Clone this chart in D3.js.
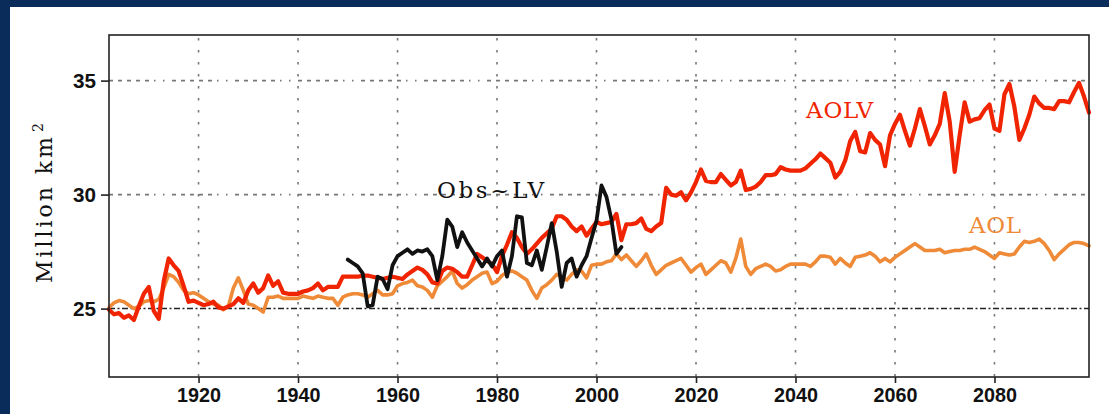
<!DOCTYPE html>
<html><head><meta charset="utf-8">
<script src="https://cdn.jsdelivr.net/npm/d3@7"></script>
<style>html,body{margin:0;padding:0;background:#0a2c5a;overflow:hidden}</style>
</head><body>
<svg id="c" width="1109" height="414"></svg>
<script>
// ---- data ----
const aolvStart = 1902;
const aolv = [
  24.95,24.75,24.8,24.6,24.7,24.5,25.1,25.65,25.95,24.9,
  24.55,26.2,27.2,26.9,26.65,26.0,25.3,25.35,25.25,25.15,
  25.2,25.3,25.05,25.0,25.1,25.2,25.45,25.25,25.8,26.1,
  25.7,25.9,26.45,26.0,26.2,25.7,25.65,25.65,25.65,25.75,
  25.8,25.9,26.1,25.8,25.95,25.95,25.95,26.4,26.4,26.4,
  26.4,26.45,
  26.45,26.4,26.35,26.3,26.35,26.4,
  26.35,26.3,26.5,26.65,26.8,26.7,26.5,26.15,26.1,26.65,
  26.8,26.75,26.6,26.4,26.4,26.9,27.4,27.25,27.1,26.95,
  26.6,27.3,27.8,28.35,28.1,27.7,27.4,27.6,27.85,28.1,
  28.3,28.5,29.05,29.05,28.9,28.6,28.4,28.6,28.2,28.5,
  28.8,28.7,28.75,28.8,29.15,28.0,28.7,28.7,28.75,28.95,
  28.5,28.4,28.6,28.75,30.3,30.0,29.95,30.1,29.75,30.1,
  30.55,31.1,30.6,30.55,30.55,30.9,30.65,30.4,30.55,31.05,
  30.2,30.25,30.35,30.55,30.85,30.85,30.9,31.2,31.1,31.05,
  31.05,31.05,31.15,31.35,31.55,31.8,31.6,31.4,30.75,31.0,
  31.5,32.35,32.75,31.9,31.85,32.7,32.4,32.2,31.25,32.6,
  33.1,33.5,32.8,32.15,32.9,33.75,33.0,32.2,32.6,33.1,
  34.45,33.2,31.0,32.6,34.05,33.2,33.3,33.35,33.7,33.95,
  32.9,32.8,34.4,34.85,33.85,32.4,32.9,33.5,34.3,34.0,
  33.8,33.8,33.75,34.1,34.1,34.05,34.5,34.9,34.3,33.6
];
const aolStart = 1902;
const aol = [
  25.05,25.25,25.35,25.3,25.15,25.0,25.1,25.3,25.35,25.3,
  25.4,25.9,26.5,26.4,26.15,25.8,25.65,25.7,25.6,25.45,
  25.3,25.2,25.15,24.95,25.1,25.9,26.35,25.8,25.2,25.15,
  25.0,24.85,25.5,25.5,25.55,25.45,25.45,25.45,25.45,25.55,
  25.5,25.45,25.55,25.5,25.45,25.45,25.15,25.5,25.6,25.65,
  25.65,25.6,25.5,25.65,25.8,25.6,25.6,25.65,
  26.0,26.1,26.15,26.25,26.0,25.95,25.8,25.5,26.0,26.2,
  26.4,26.65,26.1,25.9,26.05,26.25,26.4,26.55,26.6,26.1,
  26.2,26.45,26.6,26.65,26.55,26.4,26.25,25.8,25.45,25.9,
  26.05,26.25,26.5,26.4,26.25,26.5,26.7,26.65,26.35,26.9,
  26.95,26.95,27.05,27.1,27.4,27.15,27.35,27.1,26.85,27.1,
  27.4,26.9,26.5,26.7,26.9,27.0,27.1,27.2,26.9,26.6,
  26.8,26.95,26.5,26.7,26.9,27.1,27.0,26.6,27.2,28.05,
  26.85,26.5,26.75,26.85,26.95,26.85,26.65,26.7,26.85,26.95,
  26.95,26.95,26.95,26.85,27.05,27.3,27.3,27.25,26.95,27.2,
  27.0,26.85,27.25,27.3,27.35,27.45,27.3,27.05,27.2,27.05,
  27.25,27.4,27.55,27.7,27.85,27.7,27.55,27.55,27.55,27.6,
  27.45,27.5,27.55,27.55,27.6,27.6,27.7,27.6,27.5,27.35,
  27.2,27.45,27.4,27.35,27.4,27.7,27.95,27.9,27.95,28.05,
  27.85,27.55,27.15,27.4,27.6,27.8,27.9,27.9,27.85,27.75
];
const obsStart = 1950;
const obs = [
  27.15,27.0,26.85,26.55,25.1,25.15,26.4,26.3,25.85,26.9,
  27.3,27.45,27.6,27.4,27.55,27.5,27.6,27.3,26.25,27.3,
  28.9,28.6,27.7,28.35,27.9,27.55,27.2,26.85,27.2,26.85,
  27.3,27.55,26.4,27.3,29.05,29.0,27.0,26.9,27.55,26.7,
  27.7,28.75,27.5,25.95,27.0,27.2,26.4,26.9,27.3,28.1,
  28.85,30.4,29.9,28.9,27.4,27.7
];
const xTicks = [1920,1940,1960,1980,2000,2020,2040,2060,2080];
const yTicks = [25,30,35];
const gridY = [30,35];
const refY = 25;
const seriesNames = ["AOLV","AOL","Obs~LV"];
const yTitle = "Million km";

// ---- drawing ----
const svg = d3.select("#c");
svg.append("rect").attr("width",1109).attr("height",414).attr("fill","#0a2c5a");
svg.append("rect").attr("x",10).attr("y",7).attr("width",1099).attr("height",407).attr("fill","#ffffff");

const X0=109, X1=1089, Y0=35, Y1=377;
const x = d3.scaleLinear().domain([1902,2099]).range([X0,X1]);
const y = d3.scaleLinear().domain([22,37]).range([Y1,Y0]);

// grid
svg.append("g").selectAll("line").data(xTicks).join("line")
  .attr("x1",d=>x(d)).attr("x2",d=>x(d)).attr("y1",Y0+3).attr("y2",Y1)
  .attr("stroke","#777").attr("stroke-width",1.6).attr("stroke-dasharray","2.5,9.5");
svg.append("g").selectAll("line").data(gridY).join("line")
  .attr("x1",X0).attr("x2",X1).attr("y1",d=>y(d)).attr("y2",d=>y(d))
  .attr("stroke","#777").attr("stroke-width",1.6).attr("stroke-dasharray","4,5,4,5,4,5,4,5,4,5,1.5,7.5,1.5,7.5");
svg.append("line").attr("x1",X0).attr("x2",X1).attr("y1",y(refY)).attr("y2",y(refY))
  .attr("stroke","#222").attr("stroke-width",1.5).attr("stroke-dasharray","6,2.5,2,2.5");

// lines
const mk = (start) => d3.line().x((d,i)=>x(start+i)).y(d=>y(d)).curve(d3.curveLinear);
svg.append("path").datum(aol).attr("d",mk(aolStart)).attr("fill","none")
  .attr("stroke","#ef8a38").attr("stroke-width",3.6).attr("stroke-linejoin","round").attr("stroke-linecap","round");
svg.append("path").datum(aolv).attr("d",mk(aolvStart)).attr("fill","none")
  .attr("stroke","#f02400").attr("stroke-width",4.2).attr("stroke-linejoin","round").attr("stroke-linecap","round");
svg.append("path").datum(obs).attr("d",mk(obsStart)).attr("fill","none")
  .attr("stroke","#111").attr("stroke-width",3.8).attr("stroke-linejoin","round").attr("stroke-linecap","round");

// frame
svg.append("rect").attr("x",X0).attr("y",Y0).attr("width",X1-X0).attr("height",Y1-Y0)
  .attr("fill","none").attr("stroke","#222").attr("stroke-width",1.6);

// axes
const fontTick = "'Liberation Sans', Arial, sans-serif";
const gx = svg.append("g").attr("transform",`translate(0,${Y1})`)
  .call(d3.axisBottom(x).tickValues(xTicks).tickSize(6).tickPadding(5).tickFormat(d3.format("d")));
const gy = svg.append("g").attr("transform",`translate(${X0},0)`)
  .call(d3.axisLeft(y).tickValues(yTicks).tickSize(8).tickPadding(5).tickFormat(d3.format("d")));
[gx,gy].forEach(g=>{
  g.select(".domain").remove();
  g.selectAll(".tick line").attr("stroke","#222").attr("stroke-width",1.6);
  g.selectAll(".tick text").attr("fill","#111").style("font-family",fontTick)
   .style("font-weight","bold").style("font-size","20px");
});
gx.selectAll(".tick text").attr("textLength",44).attr("lengthAdjust","spacingAndGlyphs");
gy.selectAll(".tick text").attr("textLength",23).attr("lengthAdjust","spacingAndGlyphs");

// y title
const yt = svg.append("text").attr("transform","translate(52,283) rotate(-90)")
  .attr("text-anchor","start").style("font-family","'DejaVu Serif', serif")
  .style("font-size","22px").attr("fill","#111");
yt.append("tspan").attr("textLength",146).attr("lengthAdjust","spacing").text(yTitle);
yt.append("tspan").attr("dx",2).attr("dy",-9).style("font-size","14px").text("2");

// series labels
const lab = (t,xx,yy,w,col)=> svg.append("text").attr("x",xx).attr("y",yy).text(t)
  .attr("fill",col).style("font-family","'DejaVu Serif', serif").style("font-size","23px")
  .attr("textLength",w).attr("lengthAdjust","spacing");
lab(seriesNames[0],806,118,67,"#f02400");
lab(seriesNames[1],969,233,52,"#ef8a38");
lab(seriesNames[2],437,198,107,"#111");
</script>
</body></html>
